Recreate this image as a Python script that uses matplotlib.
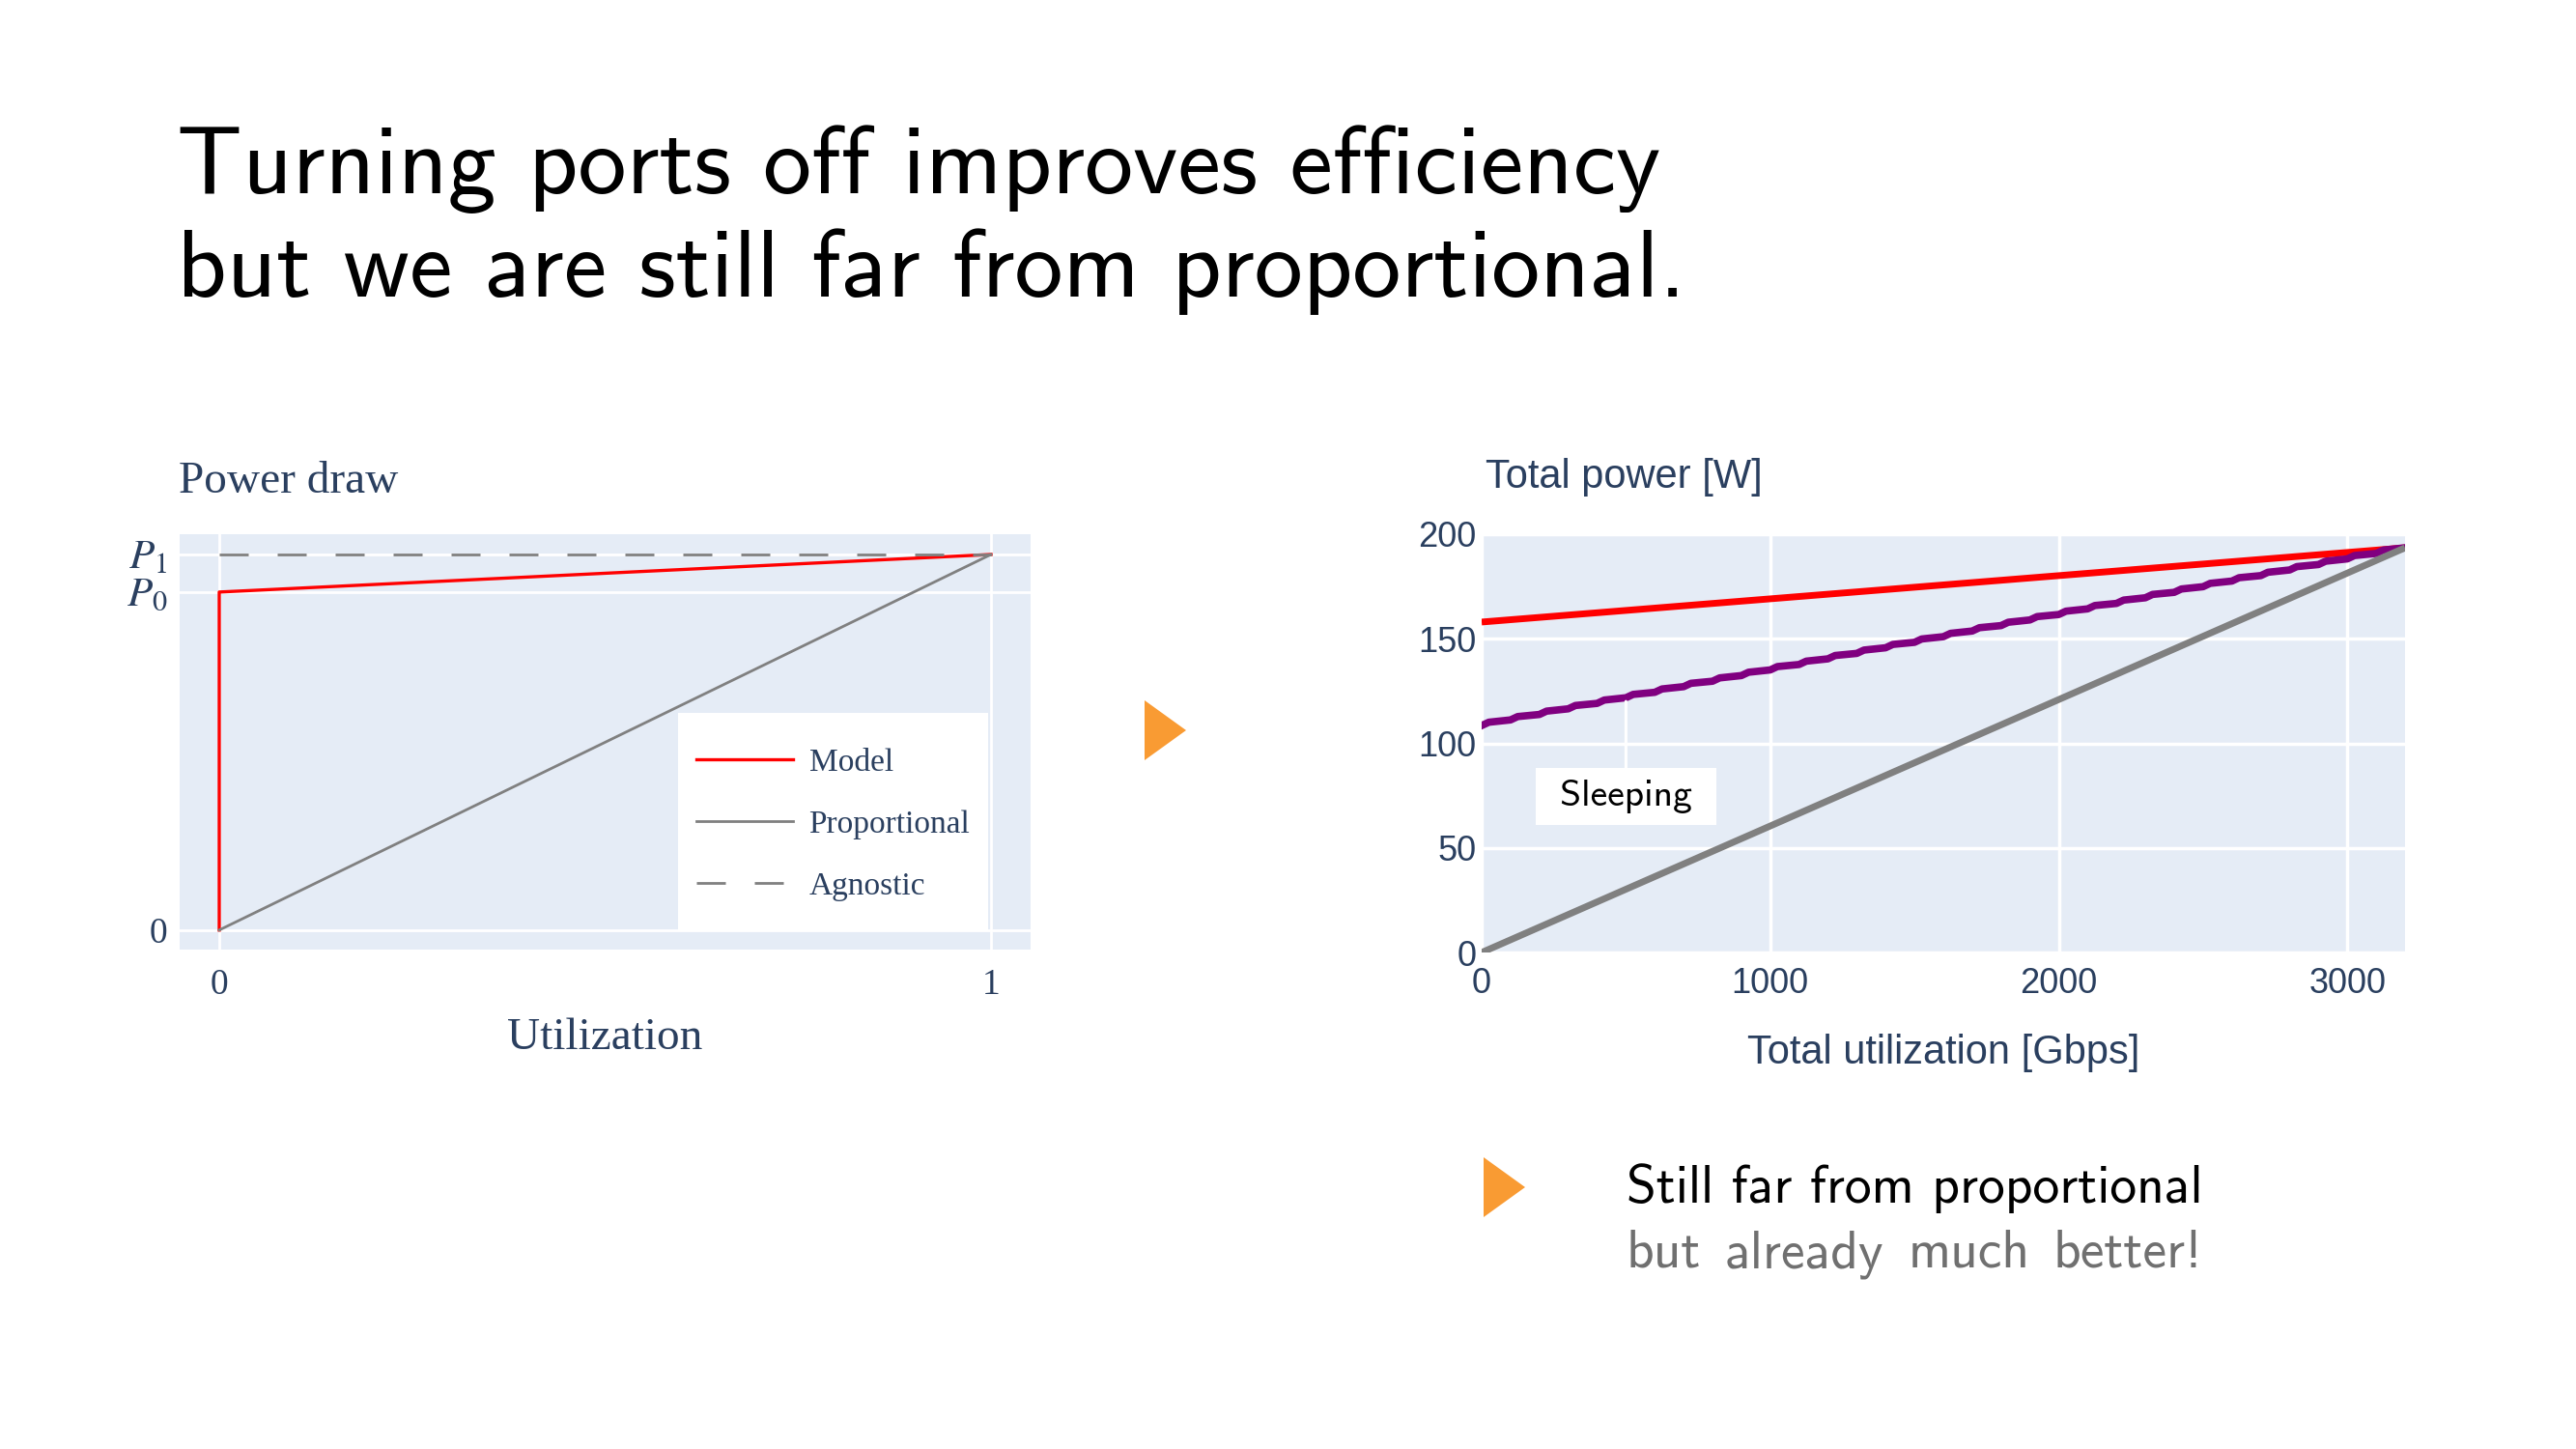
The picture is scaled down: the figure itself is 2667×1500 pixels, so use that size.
import matplotlib
matplotlib.use("Agg")
import matplotlib.pyplot as plt
from matplotlib.patches import Polygon

plt.rcParams["mathtext.fontset"] = "stix"

# left panel: simple power model (utilization normalized, P0 = 0.9, P1 = 1)
model_x = [0, 0, 1]
model_y = [0, 0.9, 1]
prop_x = [0, 1]
prop_y = [0, 1]
agn_x = [0, 1]
agn_y = [1, 1]
left_yticks = [0, 0.9, 1]
left_ylabels = ["0", "$P_0$", "$P_1$"]

# right panel: total power [W] vs total utilization [Gbps]
util_ends = [0, 3200]
model_power = [158, 193.5]
prop_power = [0, 193.5]
sleep_util = [0, 25, 100, 125, 200, 225, 300, 325, 400, 425, 500, 525, 600, 625, 700, 725,
              800, 825, 900, 925, 1000, 1025, 1100, 1125, 1200, 1225, 1300, 1325, 1400, 1425,
              1500, 1525, 1600, 1625, 1700, 1725, 1800, 1825, 1900, 1925, 2000, 2025, 2100, 2125,
              2200, 2225, 2300, 2325, 2400, 2425, 2500, 2525, 2600, 2625, 2700, 2725, 2800, 2825,
              2900, 2925, 3000, 3025, 3100, 3125, 3200]
sleep_power = [108.5, 110.1, 111.2, 112.8, 113.8, 115.4, 116.5, 118.1, 119.1, 120.7, 121.8, 123.4,
               124.4, 126.0, 127.1, 128.7, 129.7, 131.3, 132.4, 134.0, 135.1, 136.7, 137.7, 139.3,
               140.4, 142.0, 143.0, 144.6, 145.7, 147.3, 148.3, 149.9, 151.0, 152.6, 153.7, 155.3,
               156.3, 157.9, 159.0, 160.6, 161.6, 163.2, 164.3, 165.9, 166.9, 168.5, 169.6, 171.2,
               172.2, 173.8, 174.9, 176.5, 177.6, 179.2, 180.2, 181.8, 182.9, 184.5, 185.5, 187.1,
               188.2, 189.8, 190.8, 192.4, 193.5]

W, H = 2667, 1500
BG = "#E5ECF6"
TXT = "#2a3f5f"
ORANGE = "#F99B33"
SANS = "cmss10"

fig = plt.figure(figsize=(W / 100, H / 100), dpi=100)


def fx(px):
    return px / W


def fy(py):
    return 1 - py / H


# slide title
fig.text(fx(183), fy(200), "Turning ports off improves efficiency", fontsize=72,
         fontfamily=SANS, va="baseline")
fig.text(fx(183), fy(307), "but we are still far from proportional.", fontsize=72,
         fontfamily=SANS, va="baseline")

# ---- left chart
ax = fig.add_axes([fx(186), fy(983), (1067 - 186) / W, (983 - 553) / H])
ax.set_facecolor(BG)
for s in ax.spines.values():
    s.set_visible(False)
ax.plot(model_x, model_y, color="red", lw=2.4, label="Model", zorder=3)
ax.plot(prop_x, prop_y, color="gray", lw=2.0, label="Proportional", zorder=3)
ax.plot(agn_x, agn_y, color="gray", lw=2.0, dashes=(10.8, 10.8), label="Agnostic", zorder=3)
ax.set_xlim(-0.0513, 1.0513)
ax.set_ylim(-0.052, 1.054)
ax.set_xticks([0, 1])
ax.set_xticklabels(["0", "1"])
ax.set_yticks(left_yticks)
ax.set_yticklabels(left_ylabels)
ax.grid(True, color="white", lw=2.0)
ax.set_axisbelow(True)
ax.tick_params(length=0, labelsize=27, labelcolor=TXT)
ax.tick_params(axis="x", pad=14)
ax.tick_params(axis="y", pad=9)
for lbl in ax.get_xticklabels() + ax.get_yticklabels():
    lbl.set_fontfamily("Liberation Serif")
for lbl in ax.get_yticklabels()[1:]:
    lbl.set_fontsize(31)
ax.add_patch(plt.Rectangle((0.586, 0.0465), 0.364, 0.5235, transform=ax.transAxes,
                           fc="white", ec="none", zorder=4))
leg = ax.legend(loc="center", bbox_to_anchor=(0.586, 0.0395, 0.364, 0.5235), frameon=False,
                prop={"family": "Liberation Serif", "size": 24}, handlelength=3.0,
                handletextpad=0.5, labelspacing=1.0)
leg.set_zorder(5)
for t in leg.get_texts():
    t.set_color(TXT)
fig.text(fx(185), fy(510), "Power draw", fontsize=34, fontfamily="Liberation Serif",
         color=TXT, va="baseline")
fig.text(fx(626.5), fy(1086), "Utilization", fontsize=34, fontfamily="Liberation Serif",
         color=TXT, va="baseline", ha="center")

# ---- right chart
ax2 = fig.add_axes([fx(1534), fy(986), (2490 - 1534) / W, (986 - 553) / H])
ax2.set_facecolor(BG)
for s in ax2.spines.values():
    s.set_visible(False)
ax2.plot(util_ends, model_power, color="red", lw=5, solid_capstyle="butt", zorder=3)
ax2.plot(sleep_util, sleep_power, color="purple", lw=5.5, zorder=3)
ax2.plot(util_ends, prop_power, color="gray", lw=5, solid_capstyle="butt", zorder=3)
ax2.set_xlim(0, 3200)
ax2.set_ylim(0, 200)
ax2.set_xticks([0, 1000, 2000, 3000])
ax2.set_yticks([0, 50, 100, 150, 200])
ax2.grid(True, color="white", lw=2.5)
ax2.set_axisbelow(True)
ax2.tick_params(length=0, labelsize=26, labelcolor=TXT)
ax2.tick_params(axis="x", pad=11)
ax2.tick_params(axis="y", pad=4)
for lbl in ax2.get_xticklabels() + ax2.get_yticklabels():
    lbl.set_fontfamily("Liberation Sans")
ax2.annotate(" Sleeping ", xy=(500, 122.6), xytext=(500, 74.5), ha="center", va="center",
             fontsize=28.5, fontfamily=SANS,
             bbox=dict(boxstyle="square,pad=0.3", fc="white", ec="none"),
             arrowprops=dict(arrowstyle="-", color="white", lw=2.2, shrinkA=0, shrinkB=4),
             zorder=4)
fig.text(fx(1538), fy(505), "Total power [W]", fontsize=30, fontfamily="Liberation Sans",
         color=TXT, va="baseline")
fig.text(fx(2012), fy(1101), "Total utilization [Gbps]", fontsize=30,
         fontfamily="Liberation Sans", color=TXT, va="baseline", ha="center")

# orange arrows
for x0, y0, x1, y1 in [(1185, 725, 1228, 787), (1536, 1198, 1579, 1260)]:
    tri = Polygon([[fx(x0), fy(y0)], [fx(x0), fy(y1)], [fx(x1), fy((y0 + y1) / 2)]],
                  closed=True, transform=fig.transFigure, fc=ORANGE, ec="none")
    fig.add_artist(tri)

# bottom remark, second line justified to the first
t1 = fig.text(fx(1684), fy(1245), "Still far from proportional", fontsize=40,
              fontfamily=SANS, va="baseline")
words = ["but", "already", "much", "better!"]
wtexts = [fig.text(0, fy(1312), w, fontsize=40, fontfamily=SANS, color="#707070",
                   va="baseline") for w in words]
fig.canvas.draw()
r = fig.canvas.get_renderer()
line_w = t1.get_window_extent(r).width
ww = [t.get_window_extent(r).width for t in wtexts]
gap = (line_w - sum(ww)) / (len(words) - 1)
xpos = 1684
for t, w in zip(wtexts, ww):
    t.set_x(fx(xpos))
    xpos += w + gap

fig.savefig("out.png", dpi=100, facecolor="white")
